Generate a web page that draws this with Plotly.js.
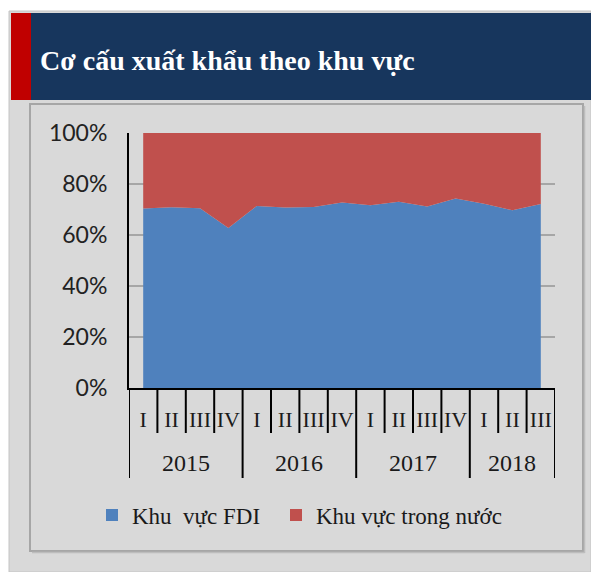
<!DOCTYPE html>
<html>
<head>
<meta charset="utf-8">
<script src="https://cdn.plot.ly/plotly-3.0.1.min.js"></script>
<style>html,body{margin:0;padding:0;background:#fff;}#chart{width:591px;height:572px;}</style>
</head>
<body>
<div id="chart"></div>
<script>
// ---- data ----
var periodYears = ['2015','2015','2015','2015','2016','2016','2016','2016','2017','2017','2017','2017','2018','2018','2018'];
var quarters = ['I','II','III','IV','I','II','III','IV','I','II','III','IV','I','II','III'];
var fdiShare = [70.4, 70.9, 70.5, 62.7, 71.4, 70.8, 71.0, 72.7, 71.7, 73.0, 71.2, 74.3, 72.3, 69.7, 72.2];
var domesticShare = [29.6, 29.1, 29.5, 37.3, 28.6, 29.2, 29.0, 27.3, 28.3, 27.0, 28.8, 25.7, 27.7, 30.3, 27.8];
var yTicks = [0, 20, 40, 60, 80, 100];
var seriesNames = ['Khu\u00a0\u00a0vực FDI', 'Khu vực trong nước'];
var chartTitle = 'Cơ cấu xuất khẩu theo khu vực';

// ---- layout helpers (pixels -> paper) ----
var W = 591, H = 572;
function px(x){ return x / W; }
function py(y){ return 1 - y / H; }

var idx = quarters.map(function(_, i){ return i; });

var blue = '#4f81bd', red = '#c0504d';
var serif = 'Liberation Serif, Times New Roman, serif';

var traces = [
  {x: idx, y: fdiShare, type: 'scatter', mode: 'lines', stackgroup: 'one',
   line: {width: 0, color: blue}, fillcolor: blue, name: seriesNames[0], showlegend: false, hoverinfo: 'skip'},
  {x: idx, y: domesticShare, type: 'scatter', mode: 'lines', stackgroup: 'one',
   line: {width: 0, color: red}, fillcolor: red, name: seriesNames[1], showlegend: false, hoverinfo: 'skip'},
  {x: [null], y: [null], type: 'scatter', mode: 'markers', name: seriesNames[0], legend: 'legend',
   marker: {symbol: 'square', size: 12, color: blue}},
  {x: [null], y: [null], type: 'scatter', mode: 'markers', name: seriesNames[1], legend: 'legend2',
   marker: {symbol: 'square', size: 12, color: red}}
];

// group boundaries from the year array
var groups = [];
periodYears.forEach(function(y, i){
  if (!groups.length || groups[groups.length-1].year !== y) groups.push({year: y, start: i, end: i});
  else groups[groups.length-1].end = i;
});

var shapes = [
  {type:'rect', xref:'paper', yref:'paper', x0:px(9), x1:px(591), y0:py(11), y1:py(572), fillcolor:'#d9d9d9', line:{color:'#c4c4c4', width:1}, layer:'below'},
  {type:'rect', xref:'paper', yref:'paper', x0:px(31), x1:px(591), y0:py(13), y1:py(100), fillcolor:'#17365d', line:{width:0}, layer:'below'},
  {type:'rect', xref:'paper', yref:'paper', x0:px(11), x1:px(31), y0:py(13), y1:py(100), fillcolor:'#c00000', line:{width:0}, layer:'below'},
  {type:'rect', xref:'paper', yref:'paper', x0:px(30), x1:px(583), y0:py(104), y1:py(551), fillcolor:'rgba(0,0,0,0)', line:{color:'#a6a6a6', width:2}, layer:'below'},
  {type:'line', xref:'paper', yref:'paper', x0:px(584.5), x1:px(584.5), y0:py(106), y1:py(553), line:{color:'#bdbdbd', width:1.5}, layer:'below'},
  {type:'line', xref:'paper', yref:'paper', x0:px(32), x1:px(584.5), y0:py(552.5), y1:py(552.5), line:{color:'#bdbdbd', width:1.5}, layer:'below'}
];

for (var b = 0; b <= quarters.length; b++) {
  var isYear = groups.some(function(g){ return g.start === b; }) || b === quarters.length;
  shapes.push({type:'line', xref:'x', yref:'paper', x0:b-0.5, x1:b-0.5,
    y0:py(388), y1:py(isYear ? 478 : 433), line:{color:'#000', width:2}});
}

var annotations = groups.map(function(g){
  return {x:(g.start+g.end)/2, y:py(463), xref:'x', yref:'paper', text:g.year, showarrow:false,
    xanchor:'center', yanchor:'middle', font:{family:serif, size:24, color:'#1a1a1a'}};
});

var legendBase = {orientation: 'h', xanchor: 'left', y: py(515), yanchor: 'middle',
  bgcolor: 'rgba(0,0,0,0)', borderwidth: 0,
  font: {family: serif, size: 23, color: '#1a1a1a'}};

var layout = {
  width: W, height: H, autosize: false,
  margin: {l:0, r:0, t:0, b:0, pad:0},
  paper_bgcolor: '#ffffff', plot_bgcolor: 'rgba(0,0,0,0)',
  title: {text: chartTitle, x: px(40), xanchor: 'left', y: py(60), yanchor: 'middle',
    xref: 'paper', yref: 'paper',
    font: {family: serif, size: 28, color: '#ffffff', weight: 700}},
  xaxis: {domain: [px(129), px(555)], range: [-0.5, quarters.length - 0.5], fixedrange: true,
    tickmode: 'array', tickvals: idx, ticktext: quarters, ticks: '', showgrid: false, zeroline: false,
    showline: true, linecolor: '#000', linewidth: 2, ticklabelstandoff: 11,
    tickfont: {family: serif, size: 22, color: '#1a1a1a'}},
  yaxis: {domain: [py(388), py(133)], range: [0, 100], fixedrange: true,
    tickmode: 'array', tickvals: yTicks, ticktext: yTicks.map(function(v){ return v + '%'; }),
    ticks: '', showgrid: true, gridcolor: '#a6a6a6', gridwidth: 2, zeroline: false,
    showline: true, linecolor: '#000', linewidth: 2, ticklabelstandoff: 15,
    tickfont: {family: 'Lato, sans-serif', size: 23, color: '#222'}},
  showlegend: true,
  legend: Object.assign({}, legendBase, {x: px(92)}),
  legend2: Object.assign({}, legendBase, {x: px(276)}),
  shapes: shapes,
  annotations: annotations
};

Plotly.newPlot('chart', traces, layout, {displayModeBar: false, staticPlot: true});
</script>
</body>
</html>
